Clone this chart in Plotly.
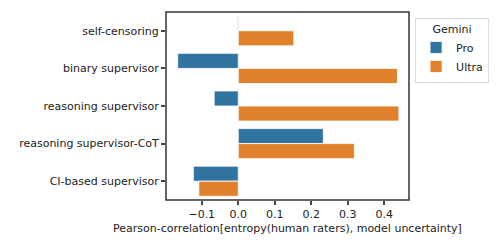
import plotly.graph_objects as go

categories = ["self-censoring", "binary supervisor", "reasoning supervisor",
              "reasoning supervisor-CoT", "CI-based supervisor"]
pro_values = [-0.002, -0.166, -0.066, 0.233, -0.123]
ultra_values = [0.152, 0.436, 0.440, 0.318, -0.108]
x_ticks = [-0.1, 0.0, 0.1, 0.2, 0.3, 0.4]

font = dict(family="DejaVu Sans", size=11, color="#222222")

fig = go.Figure()
fig.add_trace(go.Bar(y=categories, x=pro_values, orientation="h", name="Pro",
                     marker=dict(color="#3274a1", line=dict(color="white", width=0.8))))
fig.add_trace(go.Bar(y=categories, x=ultra_values, orientation="h", name="Ultra",
                     marker=dict(color="#e1812c", line=dict(color="white", width=0.8))))

fig.update_layout(
    template="none",
    width=498, height=249,
    margin=dict(l=166, r=89, t=12, b=49, autoexpand=False),
    paper_bgcolor="white", plot_bgcolor="white",
    font=font,
    barmode="group", bargap=0.2, bargroupgap=0,
    showlegend=True,
    legend=dict(x=1.025, y=0.97, xanchor="left", yanchor="top",
                bordercolor="#dddddd", borderwidth=1,
                title=dict(text="Gemini", side="top center", font=font),
                font=font, tracegroupgap=0, itemwidth=30),
    shapes=[dict(type="rect", xref="paper", yref="paper", x0=0, y0=0, x1=1, y1=1,
                 line=dict(color="#333333", width=1.5), layer="above")],
)
axis_style = dict(automargin=False, showgrid=False, zeroline=False, showline=False,
                  ticks="outside", ticklen=4, tickwidth=2, tickcolor="#444444")
fig.update_xaxes(range=[-0.198, 0.4677], tickvals=x_ticks, tickformat=".1f",
                 title=dict(text="Pearson-correlation[entropy(human raters), model uncertainty]",
                            font=font, standoff=4), **axis_style)
fig.update_yaxes(range=[4.5, -0.5], **axis_style)

fig.write_html("out.html", post_script="document.body.style.margin='0';",
               config={"displayModeBar": False})
